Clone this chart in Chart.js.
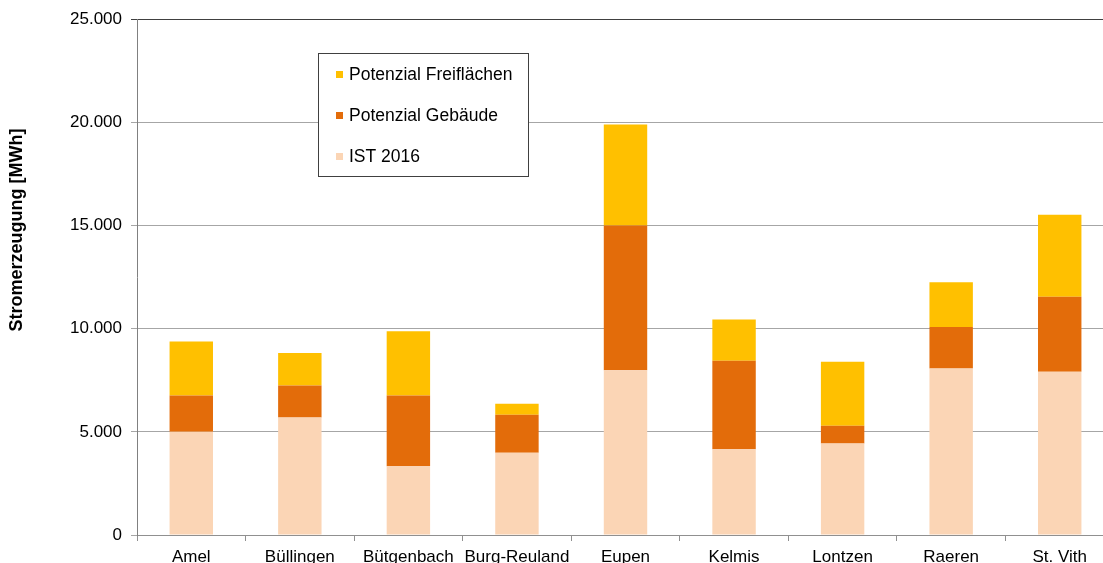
<!DOCTYPE html>
<html>
<head>
<meta charset="utf-8">
<style>
  html, body { margin: 0; padding: 0; background: #fff; overflow: hidden; }
  #wrap { position: absolute; left: 0; top: 0; }
</style>
<script src="https://cdn.jsdelivr.net/npm/chart.js@4.4.0/dist/chart.umd.min.js"></script>
</head>
<body>
<div id="wrap"><canvas id="chart" width="1120" height="580"></canvas></div>
<script>
const gemeinden = ['Amel', 'Büllingen', 'Bütgenbach', 'Burg-Reuland', 'Eupen', 'Kelmis', 'Lontzen', 'Raeren', 'St. Vith'];
const ist2016 = [5000, 5690, 3330, 3990, 7990, 4160, 4430, 8070, 7910];
const potGebaeude = [1760, 1560, 3430, 1840, 7010, 4290, 860, 2010, 3640];
const potFreiflaechen = [2620, 1570, 3110, 530, 4900, 1990, 3110, 2170, 3970];
const yTitle = 'Stromerzeugung [MWh]';

const FONT = '"Liberation Sans", Arial, sans-serif';

// 25000 -> "25.000"
function fmt(v) {
  return String(v).replace(/\B(?=(\d{3})+(?!\d))/g, '.');
}

// legend box inside the plot, entries in reverse stacking order
const boxLegend = {
  id: 'boxLegend',
  afterDraw(chart) {
    const ctx = chart.ctx;
    const x = 318, y = 53, w = 210, h = 123;
    ctx.save();
    ctx.fillStyle = '#fff';
    ctx.fillRect(x, y, w, h);
    ctx.strokeStyle = '#404040';
    ctx.lineWidth = 1;
    ctx.strokeRect(x + 0.5, y + 0.5, w, h);
    ctx.font = '17.5px ' + FONT;
    ctx.textBaseline = 'middle';
    const items = chart.data.datasets.slice().reverse();
    items.forEach((ds, i) => {
      const cy = 74 + i * 41;
      ctx.fillStyle = ds.backgroundColor;
      ctx.fillRect(336, cy - 3, 7, 7);
      ctx.fillStyle = '#000';
      ctx.fillText(ds.label, 349, cy + 1);
    });
    ctx.restore();
  }
};

const yAxisTitle = {
  id: 'yAxisTitle',
  afterDraw(chart) {
    const ctx = chart.ctx;
    ctx.save();
    ctx.translate(17, 230);
    ctx.rotate(-Math.PI / 2);
    ctx.font = 'bold 18px ' + FONT;
    ctx.fillStyle = '#000';
    ctx.textAlign = 'center';
    ctx.textBaseline = 'middle';
    ctx.fillText(yTitle, 0, 0);
    ctx.restore();
  }
};

new Chart(document.getElementById('chart'), {
  type: 'bar',
  data: {
    labels: gemeinden,
    datasets: [
      { label: 'IST 2016', data: ist2016, backgroundColor: '#FBD5B5' },
      { label: 'Potenzial Gebäude', data: potGebaeude, backgroundColor: '#E36C0A' },
      { label: 'Potenzial Freiflächen', data: potFreiflaechen, backgroundColor: '#FFC000' },
    ],
  },
  options: {
    responsive: false,
    animation: false,
    layout: { padding: { top: 19, right: 6, bottom: 0, left: 0 } },
    datasets: { bar: { categoryPercentage: 1, barPercentage: 0.4, borderWidth: 0 } },
    plugins: { legend: { display: false }, tooltip: { enabled: false } },
    scales: {
      x: {
        stacked: true,
        afterFit: s => { s.height = 45; },
        grid: { drawOnChartArea: false, tickLength: 6, color: '#909090' },
        border: { color: '#909090' },
        ticks: { color: '#000', font: { family: FONT, size: 17 }, padding: 6, maxRotation: 0, autoSkip: false },
      },
      y: {
        stacked: true,
        min: 0,
        max: 25000,
        afterFit: s => { s.width = 137; },
        grid: {
          tickLength: 6,
          color: c => (c.tick && c.tick.value === 25000 ? '#404040' : '#a6a6a6'),
        },
        border: { color: '#808080' },
        ticks: { stepSize: 5000, color: '#000', font: { family: FONT, size: 17 }, padding: 9, callback: v => fmt(v) },
      },
    },
  },
  plugins: [boxLegend, yAxisTitle],
});
</script>
</body>
</html>
